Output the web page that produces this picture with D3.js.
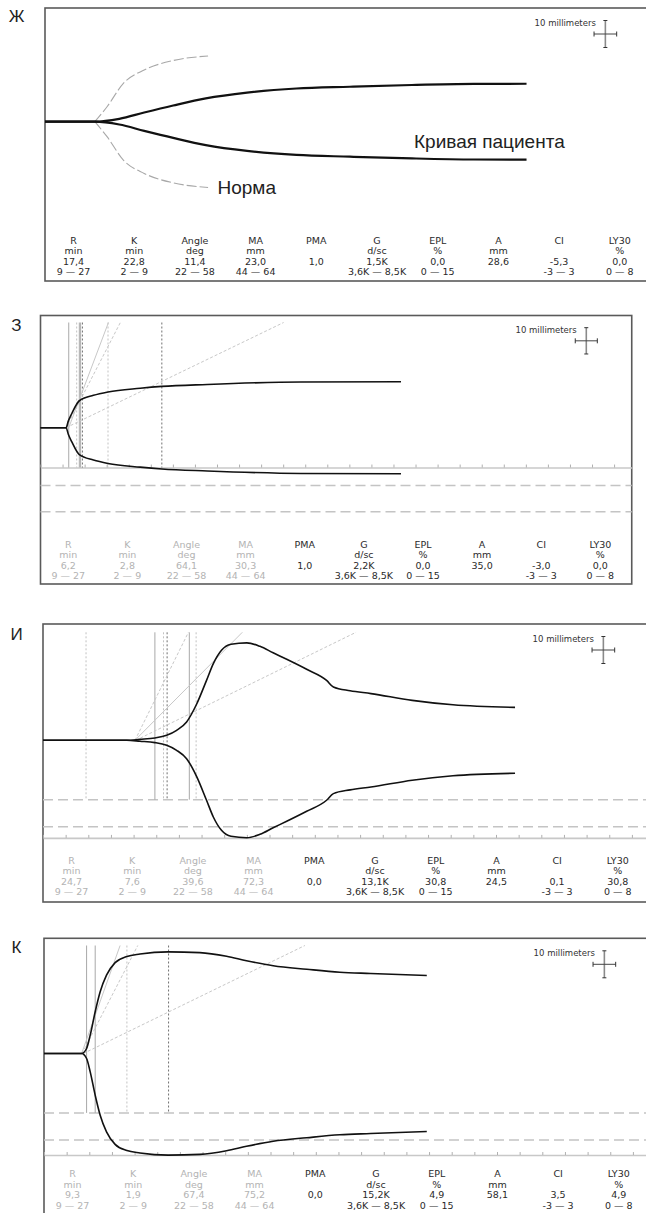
<!DOCTYPE html>
<html>
<head>
<meta charset="utf-8">
<script src="https://d3js.org/d3.v7.min.js"></script>
<style>
  body { margin: 0; background: #fff; }
  svg { display: block; background: #fff; }
  .frame { fill: none; stroke: #5a5a5a; stroke-width: 1.6; }
  .trace { fill: none; stroke: #111; stroke-width: 1.6; }
  .norma { fill: none; stroke: #a8a8a8; stroke-width: 1.1; stroke-dasharray: 10,3; }
  .mline { stroke-width: 1; }
  .mm-axis path { stroke: #c8c8c8; stroke-width: 1.6; }
  .mm-axis line { stroke: #b0b0b0; }
  .range-dash { stroke: #c4c4c4; stroke-width: 1.5; stroke-dasharray: 10,5; }
  .tbl { font-family: "DejaVu Sans", Verdana, sans-serif; font-size: 9.5px; text-anchor: middle; }
  .mmtext { font-family: "DejaVu Sans", Verdana, sans-serif; font-size: 8.5px; text-anchor: end; fill: #333; }
  .plabel { font-family: "Liberation Sans", Arial, sans-serif; font-size: 17px; text-anchor: middle; fill: #222; }
  .note { font-family: "Liberation Sans", Arial, sans-serif; font-size: 19px; fill: #222; }
</style>
</head>
<body>
<script>
    // Table of TEG parameters
    var columnNames = ["R", "K", "Angle", "MA", "PMA", "G", "EPL", "A", "CI", "LY30"];
    var columnUnits = ["min", "min", "deg", "mm", "", "d/sc", "%", "mm", "", "%"];
    var normRanges = ["9 \u2014 27", "2 \u2014 9", "22 \u2014 58", "44 \u2014 64", "", "3,6K \u2014 8,5K", "0 \u2014 15", "", "-3 \u2014 3", "0 \u2014 8"];

    var valuesZh = ["17,4", "22,8", "11,4", "23,0", "1,0", "1,5K", "0,0", "28,6", "-5,3", "0,0"];
    var valuesZe = ["6,2", "2,8", "64,1", "30,3", "1,0", "2,2K", "0,0", "35,0", "-3,0", "0,0"];
    var valuesI  = ["24,7", "7,6", "39,6", "72,3", "0,0", "13,1K", "30,8", "24,5", "0,1", "30,8"];
    var valuesK  = ["9,3", "1,9", "67,4", "75,2", "0,0", "15,2K", "4,9", "58,1", "3,5", "4,9"];

    // MA (mm) of each trace, gives the grey time axis
    var maZe = 30.3, maI = 72.3, maK = 75.2;
    // normal MA band, mm
    var maNorm = [44, 64];

    // traces: [minutes, amplitude mm]
    var curveZh = [[0, 0], [11.0, 0], [16.4, 2.1], [21.9, 6.8], [28.3, 12.0], [35.5, 17.3], [44.6, 21.6],
                   [55.5, 24.6], [67.3, 25.9], [81, 27.2], [94.7, 28.0], [106.3, 28.1]];
    var normaZh = [[11.0, 0], [13.7, 11.1], [17.3, 28.4], [21.9, 38.3], [28.3, 45.3], [36.0, 48.7]];

    var curveZe = [[0, 0], [5.8, 0], [6.3, 5.0], [7.1, 10.8], [8.8, 20.5], [12.0, 24.6], [15.3, 27.2],
                   [22.6, 30.0], [27.5, 31.4], [37.8, 32.9], [59.0, 34.8], [81.7, 35.0]];

    var curveI = [[0, 0], [18.5, 0], [21.4, 0.7], [24.7, 1.7], [27.3, 3.7], [29.5, 7.4], [31.7, 13.6],
                  [33.9, 26.7], [36.1, 44.4], [37.6, 56.8], [39.4, 66.7], [41.5, 71.1], [45.0, 72.2],
                  [47.9, 69.6], [50.8, 64.8], [53.8, 60.0], [58.2, 52.6], [62.6, 44.4], [64.1, 39.5],
                  [67.8, 36.7], [72.4, 34.6], [81.5, 29.6], [90.5, 26.3], [104.2, 24.4]];

    var curveK = [[0, 0], [8.3, 0], [9.4, 3.7], [10.2, 13.6], [11.3, 30.9], [12.4, 45.7], [13.8, 58.0],
                  [15.7, 67.3], [18.3, 71.9], [21.2, 73.7], [27.4, 75.3], [34.4, 74.7], [40.3, 72.0],
                  [44.7, 68.7], [50.6, 65.0], [58.0, 62.4], [65.3, 60.2], [72.1, 59.3], [84.5, 57.8]];

    // vertical markers, minutes
    var solidZe = [6.4, 8.8, 9.1], dottedZe = [8.2, 15.3], darkZe = [9.5, 27.5];
    var solidI = [24.7, 32.3], dottedI = [9.5, 26.6, 33.8], darkI = [27.4];
    var solidK = [9.4, 11.3], dottedK = [18.3], darkK = [27.5];

    // angle lines: [start min, end min at top], solid first
    var anglesZe = [[6.4, 15.4], [5.8, 18.1], [5.8, 55.1]];
    var anglesI = [[20.3, 44.0], [20.3, 32.1], [20.5, 69.1]];
    var anglesK = [[8.3, 16.8], [8.4, 20.7], [8.7, 57.6]];

    var markerTop = 80;   // mm, top of marker lines
    var spanMin = 134;    // minutes across the frame
    var pxPerMin = 4.53, pxPerMm = 1.35;

    var panels = [
        {label: "\u0416", labelY: 22, left: 45, top: 8, bottom: 281, base: 121.7, f: 1, rowY: 240.7,
         values: valuesZh, curve: curveZh, norma: normaZh, dim: false},
        {label: "\u0417", labelY: 331, left: 40.5, top: 315.5, bottom: 584, base: 427.7, f: 0.974, rowY: 545,
         values: valuesZe, curve: curveZe, ma: maZe, solid: solidZe, dotted: dottedZe, dark: darkZe, angles: anglesZe, dim: true},
        {label: "\u0418", labelY: 639.5, left: 43, top: 624, bottom: 902, base: 740.3, f: 1, rowY: 860.7,
         values: valuesI, curve: curveI, ma: maI, solid: solidI, dotted: dottedI, dark: darkI, angles: anglesI, dim: true},
        {label: "\u041A", labelY: 953, left: 44, top: 938.3, bottom: 1217, base: 1053.5, f: 1, rowY: 1174,
         values: valuesK, curve: curveK, ma: maK, solid: solidK, dotted: dottedK, dark: darkK, angles: anglesK, dim: true}
    ];

    var svg = d3.select("body").append("svg")
        .attr("width", 646)
        .attr("height", 1213);

    panels.forEach(function(p) {
        var g = svg.append("g");

        var x = d3.scaleLinear().domain([0, spanMin]).range([p.left, p.left + spanMin * pxPerMin * p.f]);
        var y = d3.scaleLinear().domain([0, 100]).range([p.base, p.base - 100 * pxPerMm * p.f]);

        var upper = d3.line().x(function(d) { return x(d[0]); }).y(function(d) { return y(d[1]); }).curve(d3.curveMonotoneX);
        var lower = d3.line().x(function(d) { return x(d[0]); }).y(function(d) { return y(-d[1]); }).curve(d3.curveMonotoneX);

        // panel letter
        g.append("text").attr("class", "plabel").attr("x", 16.5).attr("y", p.labelY).text(p.label);

        // frame
        g.append("rect").attr("class", "frame")
            .attr("x", x(0)).attr("y", p.top)
            .attr("width", x(spanMin) - x(0)).attr("height", p.bottom - p.top);

        if (p.ma !== undefined) {
            // MA normal band
            g.selectAll(".range-dash").data(maNorm).enter().append("line")
                .attr("class", "range-dash")
                .attr("x1", x(0)).attr("x2", x(spanMin))
                .attr("y1", function(d) { return y(-d); }).attr("y2", function(d) { return y(-d); });

            // time axis at -MA
            g.append("g").attr("class", "mm-axis")
                .attr("transform", "translate(0," + y(-p.ma) + ")")
                .call(d3.axisTop(x).tickValues(d3.range(0, spanMin, 5)).tickSize(3).tickSizeOuter(0).tickFormat(""));

            var bottomMm = -Math.min(maNorm[0], p.ma);

            function vlines(list, color, dash) {
                g.selectAll(null).data(list).enter().append("line")
                    .attr("class", "mline")
                    .attr("x1", function(d) { return x(d); }).attr("x2", function(d) { return x(d); })
                    .attr("y1", y(markerTop)).attr("y2", y(bottomMm))
                    .style("stroke", color)
                    .style("stroke-dasharray", dash);
            }
            vlines(p.solid, "#a9a9a9", null);
            vlines(p.dotted, "#c2c2c2", "2,2");
            vlines(p.dark, "#707070", "2,2");

            g.selectAll(null).data(p.angles).enter().append("line")
                .attr("class", "mline")
                .attr("x1", function(d) { return x(d[0]); }).attr("y1", y(0))
                .attr("x2", function(d) { return x(d[1]); }).attr("y2", y(markerTop))
                .style("stroke", "#c8c8c8")
                .style("stroke-dasharray", function(d, i) { return i === 0 ? null : "3,2"; });
        }

        if (p.norma) {
            g.append("path").attr("class", "norma").attr("d", upper(p.norma));
            g.append("path").attr("class", "norma").attr("d", lower(p.norma));
        }

        g.append("path").attr("class", "trace").attr("d", upper(p.curve))
            .style("stroke-width", p.norma ? 2.2 : 1.6);
        g.append("path").attr("class", "trace").attr("d", lower(p.curve))
            .style("stroke-width", p.norma ? 2.2 : 1.6);

        if (p.norma) {
            g.append("text").attr("class", "note").attr("x", 414).attr("y", 147.5).text("\u041A\u0440\u0438\u0432\u0430\u044F \u043F\u0430\u0446\u0438\u0435\u043D\u0442\u0430");
            g.append("text").attr("class", "note").attr("x", 217.5).attr("y", 194).text("\u041D\u043E\u0440\u043C\u0430");
        }

        // 10 mm scale cross: 5 min across, 10 mm up
        var cx = x(123.7), cy = p.top + 26 * p.f;
        var half = y(0) - y(10);
        g.append("line").attr("x1", cx).attr("x2", cx).attr("y1", cy - half).attr("y2", cy + half)
            .style("stroke", "#8a8a8a").style("stroke-width", 1.6);
        [cy - half, cy + half].forEach(function(v) {
            g.append("line").attr("x1", cx - 2).attr("x2", cx + 2).attr("y1", v).attr("y2", v)
                .style("stroke", "#333").style("stroke-width", 1);
        });
        g.append("line").attr("x1", x(121.2)).attr("x2", x(126.2)).attr("y1", cy).attr("y2", cy)
            .style("stroke", "#444").style("stroke-width", 1);
        [x(121.2), x(126.2)].forEach(function(v) {
            g.append("line").attr("x1", v).attr("x2", v).attr("y1", cy - 2.5).attr("y2", cy + 2.5)
                .style("stroke", "#333").style("stroke-width", 1);
        });
        g.append("text").attr("class", "mmtext")
            .attr("x", cx - 9.5).attr("y", p.top + 17.5 * p.f)
            .text("10 millimeters");

        // parameter table
        var col = d3.scalePoint().domain(columnNames)
            .range([p.left + 28.5 * p.f, p.left + (28.5 + 9 * 60.7) * p.f]);
        var rows = [columnNames, columnUnits, p.values, normRanges];
        rows.forEach(function(row, r) {
            g.selectAll(null).data(row).enter().append("text")
                .attr("class", "tbl")
                .attr("x", function(d, i) { return col(columnNames[i]); })
                .attr("y", p.rowY + r * 10.4 * p.f)
                .attr("dy", "0.35em")
                .style("fill", function(d, i) { return (p.dim && i < 4) ? "#b3b3b3" : "#2a2a2a"; })
                .text(function(d) { return d; });
        });
    });
</script>
</body>
</html>
